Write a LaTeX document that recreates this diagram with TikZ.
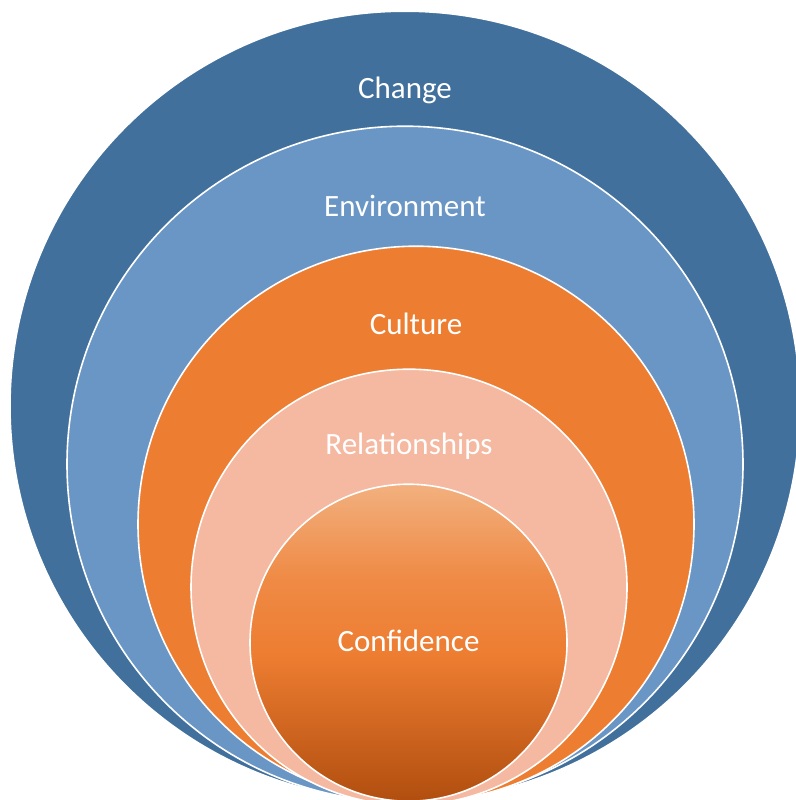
\documentclass[tikz,border=0pt]{standalone}
\usepackage{fontspec}
\setmainfont{Carlito}
\usetikzlibrary{positioning}
\definecolor{changeblue}{HTML}{41709C}
\definecolor{envblue}{HTML}{6A96C6}
\definecolor{cultorange}{HTML}{ED7D31}
\definecolor{relpeach}{HTML}{F5B8A0}
\definecolor{conftop}{HTML}{F2B07E}
\definecolor{confmid}{HTML}{EF8A45}
\definecolor{confbot}{HTML}{B14E0F}
% vertical fade for the innermost disc
\pgfdeclareverticalshading{confshade}{100bp}{color(0bp)=(confbot); color(25bp)=(confbot);
  color(48bp)=(cultorange); color(60bp)=(confmid); color(75bp)=(conftop); color(100bp)=(conftop)}
\tikzset{
  ring/.style={circle, draw=white, line width=1.6pt, inner sep=0pt, anchor=south},
  ringtext/.style={text=white, font=\fontsize{31}{36}\selectfont}
}

\begin{document}
\begin{tikzpicture}[x=1pt,y=-1pt]
        \useasboundingbox (0,0) rectangle (795,800);
        % rings, all touching at the bottom
        \node [ring, fill=changeblue, minimum size=790pt] (Change) at (405,802) {};
        \node [ring, fill=envblue, minimum size=676pt] (Env) at (405,803) {};
        \node [ring, fill=cultorange, minimum size=556pt] (Cult) at (416,803) {};
        \node [ring, fill=relpeach, minimum size=436pt] (Rel) at (409,806) {};
        \node [ring, shading=confshade, minimum size=317pt] (Conf) at (408.5,802) {};

        % labels
        \node [ringtext, on grid, below=63pt of Change.north] (ChangeText) {Change};
        \node [ringtext, on grid, below=66pt of Env.north] (EnvText) {Environment};
        \node [ringtext, on grid, below=64pt of Cult.north] (CultText) {Culture};
        \node [ringtext, on grid, below=61pt of Rel.north] (RelText) {Relationships};
        \node [ringtext, on grid, below=143pt of Conf.north] (ConfText) {Confidence};
      \end{tikzpicture}
\end{document}
